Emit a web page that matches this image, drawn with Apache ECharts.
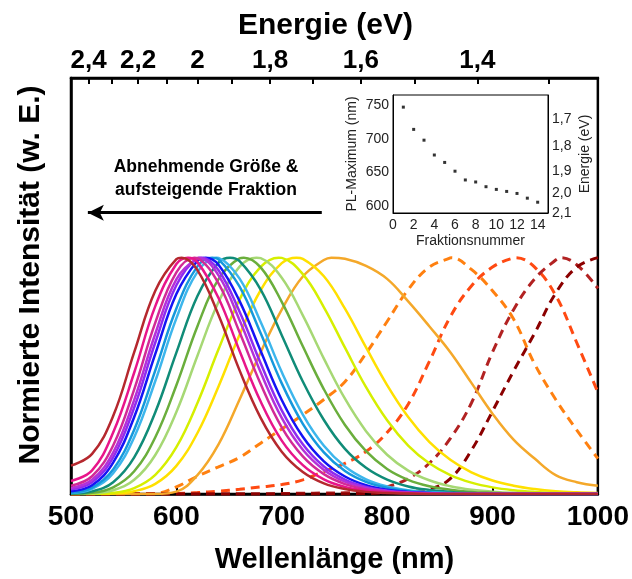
<!DOCTYPE html>
<html>
<head>
<meta charset="utf-8">
<script src="https://cdn.jsdelivr.net/npm/echarts@6/dist/echarts.min.js"></script>
<style>
html, body { margin: 0; padding: 0; background: #fff; }
#chart { width: 632px; height: 579px; }
</style>
</head>
<body>
<div id="chart"></div>
<script>
// wavelength grid (nm) shared by every spectrum
var wl = [500, 520, 540, 560, 580, 600, 620, 640, 660, 680, 700, 720, 740, 760, 780, 800, 820, 840, 860, 880, 900, 920, 940, 960, 980, 1000]

// normalised PL spectra, fraction 14 ... 1 (solid lines)
var f14 = [0.12, 0.17, 0.33, 0.60, 0.86, 0.994, 0.947, 0.757, 0.523, 0.322, 0.179, 0.093, 0.045, 0.021, 0.009, 0.004, 0.002, 0, 0, 0, 0, 0, 0, 0, 0, 0]
var f13 = [0.055, 0.10, 0.26, 0.514, 0.795, 0.973, 0.981, 0.829, 0.605, 0.391, 0.226, 0.122, 0.062, 0.030, 0.014, 0.006, 0.003, 0, 0, 0, 0, 0, 0, 0, 0, 0]
var f12 = [0.035, 0.075, 0.205, 0.443, 0.725, 0.938, 0.998, 0.891, 0.684, 0.465, 0.282, 0.159, 0.084, 0.042, 0.020, 0.009, 0.004, 0, 0, 0, 0, 0, 0, 0, 0, 0]
var f11 = [0.025, 0.06, 0.175, 0.398, 0.678, 0.908, 0.999, 0.925, 0.735, 0.515, 0.322, 0.187, 0.102, 0.052, 0.025, 0.012, 0.005, 0.002, 0, 0, 0, 0, 0, 0, 0, 0]
var f10 = [0.02, 0.05, 0.155, 0.366, 0.641, 0.883, 0.997, 0.947, 0.771, 0.553, 0.354, 0.21, 0.116, 0.061, 0.030, 0.014, 0.007, 0.003, 0, 0, 0, 0, 0, 0, 0, 0]
var f9 = [0.012, 0.037, 0.133, 0.326, 0.593, 0.846, 0.987, 0.970, 0.816, 0.605, 0.398, 0.242, 0.138, 0.074, 0.037, 0.018, 0.009, 0.004, 0, 0, 0, 0, 0, 0, 0, 0]
var f8 = [0.005, 0.027, 0.104, 0.272, 0.523, 0.785, 0.963, 0.993, 0.877, 0.68, 0.468, 0.297, 0.176, 0.097, 0.051, 0.026, 0.013, 0.006, 0.003, 0, 0, 0, 0, 0, 0, 0]
var f7 = [0.004, 0.022, 0.088, 0.24, 0.478, 0.743, 0.94, 0.999, 0.911, 0.728, 0.516, 0.336, 0.204, 0.116, 0.062, 0.032, 0.016, 0.008, 0.004, 0, 0, 0, 0, 0, 0, 0]
var f6 = [0.002, 0.011, 0.05, 0.155, 0.346, 0.598, 0.838, 0.979, 0.985, 0.865, 0.672, 0.476, 0.313, 0.191, 0.111, 0.061, 0.032, 0.017, 0.009, 0.004, 0.002, 0, 0, 0, 0, 0]
var f5 = [0.001, 0.005, 0.028, 0.096, 0.24, 0.46, 0.71, 0.909, 0.997, 0.959, 0.813, 0.625, 0.443, 0.292, 0.181, 0.106, 0.060, 0.033, 0.018, 0.009, 0.005, 0.002, 0, 0, 0, 0]
var f4 = [0, 0.003, 0.016, 0.06, 0.165, 0.347, 0.585, 0.812, 0.962, 0.998, 0.915, 0.756, 0.573, 0.403, 0.266, 0.166, 0.099, 0.058, 0.033, 0.018, 0.010, 0.005, 0.003, 0, 0, 0]
var f3 = [0, 0.001, 0.005, 0.025, 0.081, 0.198, 0.385, 0.612, 0.823, 0.961, 0.999, 0.93, 0.79, 0.619, 0.452, 0.312, 0.205, 0.13, 0.08, 0.048, 0.028, 0.016, 0.009, 0.005, 0.003, 0.002]
var f2 = [0, 0, 0.002, 0.012, 0.043, 0.119, 0.258, 0.455, 0.674, 0.862, 0.977, 0.995, 0.921, 0.784, 0.62, 0.461, 0.326, 0.221, 0.145, 0.092, 0.057, 0.035, 0.021, 0.012, 0.007, 0.004]
var f1 = [0, 0, 0, 0, 0, 0.01, 0.08, 0.21, 0.40, 0.60, 0.78, 0.92, 0.99, 0.995, 0.965, 0.91, 0.815, 0.71, 0.60, 0.47, 0.34, 0.23, 0.15, 0.08, 0.05, 0.035]
// larger particles (dashed lines)
var g1 = [0, 0, 0, 0, 0.002, 0.03, 0.075, 0.115, 0.155, 0.215, 0.275, 0.335, 0.40, 0.475, 0.595, 0.73, 0.865, 0.96, 0.999, 0.95, 0.86, 0.74, 0.55, 0.40, 0.27, 0.15]
var g2 = [0, 0, 0, 0, 0, 0.002, 0.006, 0.012, 0.02, 0.03, 0.04, 0.06, 0.095, 0.13, 0.18, 0.26, 0.38, 0.56, 0.75, 0.88, 0.96, 0.999, 0.96, 0.84, 0.64, 0.43]
var g3 = [0, 0, 0, 0, 0, 0, 0, 0, 0, 0, 0.002, 0.003, 0.004, 0.005, 0.01, 0.03, 0.065, 0.13, 0.235, 0.385, 0.60, 0.78, 0.91, 0.99, 0.97, 0.87]
var g4 = [0, 0, 0, 0, 0, 0, 0, 0, 0, 0, 0, 0, 0, 0, 0.002, 0.005, 0.01, 0.02, 0.065, 0.185, 0.35, 0.52, 0.68, 0.85, 0.96, 1.0]

var solidSets = [f1, f2, f3, f4, f5, f6, f7, f8, f9, f10, f11, f12, f13, f14]
var solidPeaks = [747, 714, 697, 676, 664, 651, 638, 634, 628, 624, 621, 617, 611, 605]
var solidColors = ['#f4a82a', '#ffe000', '#d6ef00', '#a6d874', '#6aae3c', '#108c78', '#3db6ec', '#1598dc', '#1414f5', '#8e2cf0', '#b431d8', '#d22a96', '#e8158a', '#b5282e']
var dashSets = [g1, g2, g3, g4]
var dashPeaks = [861, 922, 965, null]
var dashColors = ['#ff8010', '#ff4a12', '#b22222', '#8b0000']

// inset: PL maximum per fraction
var fraction = [1, 2, 3, 4, 5, 6, 7, 8, 9, 10, 11, 12, 13, 14]
var plMax = [747, 714, 698, 676, 665, 652, 639, 636, 629, 625, 622, 619, 612, 606]

// energy axis labels (eV)
var topTickEv = [2.4, 2.3, 2.2, 2.1, 2.0, 1.9, 1.8, 1.7, 1.6, 1.5, 1.4, 1.3]
var topLabelEv = [2.4, 2.2, 2.0, 1.8, 1.6, 1.4]
var topLabelText = ['2,4', '2,2', '2', '1,8', '1,6', '1,4']
var insetEv = [1.7, 1.8, 1.9, 2.0, 2.1]
var insetEvText = ['1,7', '1,8', '1,9', '2,0', '2,1']
var nmLabels = [600, 650, 700, 750]

var FONT = 'Liberation Sans, Arial, sans-serif'

function toNm(ev) { return 1240 / ev }

function spectrum(vals, peak) {
  var pts = wl.map(function (x, i) { return [x, vals[i]] })
  if (peak && wl.indexOf(peak) < 0) {
    pts.push([peak, 1])
    pts.sort(function (a, b) { return a[0] - b[0] })
  }
  return pts
}

function labelFor(evs, texts) {
  return function (v) {
    for (var i = 0; i < evs.length; i++) {
      if (Math.abs(toNm(evs[i]) - v) < 0.5) return texts[i]
    }
    return ''
  }
}

var series = []
dashSets.forEach(function (d, i) {
  series.push({
    type: 'line', xAxisIndex: 0, yAxisIndex: 0,
    data: spectrum(d, dashPeaks[i]),
    smooth: 0.4, showSymbol: false, silent: true,
    lineStyle: { color: dashColors[i], width: 3, type: [9, 6] }
  })
})
solidSets.forEach(function (d, i) {
  series.push({
    type: 'line', xAxisIndex: 0, yAxisIndex: 0,
    data: spectrum(d, solidPeaks[i]),
    smooth: 0.4, showSymbol: false, silent: true,
    lineStyle: { color: solidColors[i], width: 2.5 }
  })
})
// arrow
series.push({
  type: 'line', xAxisIndex: 0, yAxisIndex: 0, data: [], silent: true,
  markLine: {
    silent: true, animation: false,
    symbol: ['none', 'arrow'], symbolSize: [12, 16],
    label: { show: false },
    lineStyle: { color: '#000', width: 3, type: 'solid' },
    data: [[{ coord: [738, 1.19] }, { coord: [516, 1.19] }]]
  }
})
// inset points
series.push({
  type: 'scatter', xAxisIndex: 2, yAxisIndex: 2,
  data: fraction.map(function (f, i) { return [f, plMax[i]] }),
  symbol: 'rect', symbolSize: 3, itemStyle: { color: '#000' }, silent: true
})

var chart = echarts.init(document.getElementById('chart'))
chart.setOption({
  animation: false,
  backgroundColor: '#fff',
  textStyle: { fontFamily: FONT },
  grid: [
    { left: 71, top: 78, right: 32, bottom: 83, show: true, borderColor: '#000', borderWidth: 2.5 },
    { left: 393, top: 95, width: 155, height: 118, show: true, borderColor: '#000', borderWidth: 1, backgroundColor: '#fff' }
  ],
  xAxis: [
    {
      type: 'value', gridIndex: 0, position: 'bottom', min: 500, max: 1000, interval: 100,
      axisLine: { lineStyle: { color: '#000', width: 2.5 } },
      axisTick: { inside: true, length: 6, lineStyle: { color: '#000', width: 2 } },
      axisLabel: {
        color: '#000', fontSize: 28, fontWeight: 'bold', margin: 9, fontFamily: FONT,
        formatter: function (v) { return String(v) }
      },
      splitLine: { show: false },
      name: 'Wellenlänge (nm)', nameLocation: 'middle', nameGap: 51,
      nameTextStyle: { color: '#000', fontSize: 29, fontWeight: 'bold', fontFamily: FONT }
    },
    {
      type: 'value', gridIndex: 0, position: 'top', min: 500, max: 1000,
      axisLine: { lineStyle: { color: '#000', width: 2.5 } },
      axisTick: { inside: true, length: 6, lineStyle: { color: '#000', width: 2 }, customValues: topTickEv.map(toNm) },
      axisLabel: {
        color: '#000', fontSize: 26, fontWeight: 'bold', margin: 4, fontFamily: FONT,
        customValues: topLabelEv.map(toNm), formatter: labelFor(topLabelEv, topLabelText)
      },
      splitLine: { show: false },
      name: 'Energie (eV)', nameLocation: 'middle', nameGap: 37,
      nameTextStyle: { color: '#000', fontSize: 30, fontWeight: 'bold', fontFamily: FONT, padding: [0, 18, 0, 0] }
    },
    {
      type: 'value', gridIndex: 1, min: 0, max: 15, interval: 2,
      axisLine: { lineStyle: { color: '#000', width: 1 } },
      axisTick: { show: false },
      axisLabel: { color: '#222', fontSize: 14, margin: 5, showMaxLabel: false, fontFamily: FONT },
      splitLine: { show: false },
      name: 'Fraktionsnummer', nameLocation: 'middle', nameGap: 21,
      nameTextStyle: { color: '#222', fontSize: 14, fontFamily: FONT }
    }
  ],
  yAxis: [
    {
      type: 'value', gridIndex: 0, min: 0, max: 1.76,
      axisLine: { show: true, lineStyle: { color: '#000', width: 2.5 } },
      axisTick: { show: false }, axisLabel: { show: false }, splitLine: { show: false },
      name: 'Normierte Intensität (w. E.)', nameLocation: 'middle', nameGap: 25,
      nameTextStyle: { color: '#000', fontSize: 30, fontWeight: 'bold', fontFamily: FONT, padding: [0, 0, 0, 22] }
    },
    {
      type: 'value', gridIndex: 1, min: 590, max: 765,
      axisLine: { show: true, lineStyle: { color: '#000', width: 1 } },
      axisTick: { show: false },
      axisLabel: { color: '#222', fontSize: 14, margin: 4, customValues: nmLabels, fontFamily: FONT },
      splitLine: { show: false },
      name: 'PL-Maximum (nm)', nameLocation: 'middle', nameGap: 34,
      nameTextStyle: { color: '#222', fontSize: 14, fontFamily: FONT }
    },
    {
      type: 'value', gridIndex: 1, position: 'right', min: 590, max: 765,
      axisLine: { show: true, lineStyle: { color: '#000', width: 1 } },
      axisTick: { show: false },
      axisLabel: {
        color: '#222', fontSize: 14, margin: 4, fontFamily: FONT,
        customValues: insetEv.map(toNm), formatter: labelFor(insetEv, insetEvText)
      },
      splitLine: { show: false },
      name: 'Energie (eV)', nameLocation: 'middle', nameGap: 30,
      nameTextStyle: { color: '#222', fontSize: 14, fontFamily: FONT }
    }
  ],
  graphic: [
    {
      type: 'text', x: 206, y: 156, silent: true,
      style: {
        text: 'Abnehmende Größe &\naufsteigende Fraktion',
        font: 'bold 17.5px ' + FONT, fill: '#000', align: 'center', lineHeight: 23
      }
    }
  ],
  series: series
})
</script>
</body>
</html>
